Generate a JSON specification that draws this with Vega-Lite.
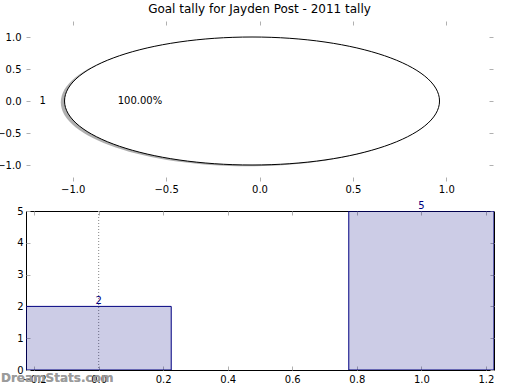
{
  "$schema": "https://vega.github.io/schema/vega-lite/v6.json",
  "padding": {"left": -4, "top": 2, "right": 0, "bottom": 0},
  "background": "white",
  "config": {
    "font": "DejaVu Sans",
    "title": {"font": "DejaVu Sans", "fontSize": 12, "fontWeight": "normal", "color": "black"},
    "axis": {"labelFont": "DejaVu Sans", "labelFontSize": 10, "labelColor": "black", "tickColor": "#b0b0b0", "tickWidth": 1, "tickSize": -4, "labelPadding": 9, "domain": false, "grid": false, "title": null, "labelFlush": false, "labelOverlap": false, "labelBound": false}
  },
  "bounds": "flush",
  "spacing": 30,
  "vconcat": [
    {
      "title": {"text": "Goal tally for Jayden Post - 2011 tally", "offset": 5, "anchor": "middle", "frame": "group"},
      "width": 467,
      "height": 160,
      "view": {"stroke": null},
      "data": {"values": [{"slice": "1", "share": 1, "pct": "100.00%"}]},
      "layer": [
        {
          "mark": {"type": "point", "shape": "M-1,0A1,0.3413,0,1,0,1,0A1,0.3413,0,1,0,-1,0Z", "size": 140625, "filled": true, "fill": "#7a7a7a", "opacity": 0.6, "strokeWidth": 0},
          "encoding": {
            "x": {"datum": -0.06, "type": "quantitative", "scale": {"domain": [-1.25, 1.25], "nice": false, "zero": false, "padding": 0}, "axis": {"orient": "bottom", "values": [-1, -0.5, 0, 0.5, 1], "format": ".1f", "labelPadding": 7}},
            "y": {"datum": -0.02, "type": "quantitative", "scale": {"domain": [-1.25, 1.25], "nice": false, "zero": false, "padding": 0}, "axis": {"orient": "left", "values": [-1, -0.5, 0, 0.5, 1], "format": ".1f"}}
          }
        },
        {
          "mark": {"type": "point", "shape": "M-1,0A1,0.3413,0,1,0,1,0A1,0.3413,0,1,0,-1,0Z", "size": 140625, "filled": true, "fill": "white", "stroke": "black", "strokeWidth": 1, "opacity": 1},
          "encoding": {
            "x": {"datum": -0.04, "type": "quantitative", "axis": {"orient": "top", "values": [-1, -0.5, 0, 0.5, 1], "labels": false}},
            "y": {"datum": 0, "type": "quantitative", "axis": {"orient": "right", "values": [-1, -0.5, 0, 0.5, 1], "labels": false}}
          }
        },
        {
          "mark": {"type": "text", "fontSize": 10, "align": "center", "baseline": "middle", "color": "black"},
          "encoding": {
            "x": {"datum": -1.16, "type": "quantitative", "axis": null},
            "y": {"datum": 0, "type": "quantitative", "axis": null},
            "text": {"field": "slice"}
          }
        },
        {
          "mark": {"type": "text", "fontSize": 10, "align": "center", "baseline": "middle", "color": "black"},
          "encoding": {
            "x": {"datum": -0.64, "type": "quantitative", "axis": null},
            "y": {"datum": 0, "type": "quantitative", "axis": null},
            "text": {"field": "pct"}
          }
        }
      ],
      "resolve": {"axis": {"x": "independent", "y": "independent"}}
    },
    {
      "width": 468,
      "height": 159,
      "view": {"stroke": "black", "strokeWidth": 1},
      "data": {"values": [{"x": 0, "value": 2}, {"x": 1, "value": 5}]},
      "layer": [
        {
          "mark": {"type": "rule", "color": "#999999", "strokeDash": [1, 2], "strokeWidth": 1},
          "encoding": {
            "x": {"datum": 0, "type": "quantitative", "axis": null}
          }
        },
        {
          "mark": {"type": "bar", "width": 145.2, "fill": "#000080", "fillOpacity": 0.2, "stroke": "#000080", "strokeWidth": 1, "clip": true},
          "encoding": {
            "x": {"field": "x", "type": "quantitative", "scale": {"domain": [-0.225, 1.225], "nice": false, "zero": false, "padding": 0}, "axis": {"orient": "bottom", "values": [-0.2, 0, 0.2, 0.4, 0.6, 0.8, 1.0, 1.2], "format": ".1f", "labelPadding": 8}},
            "y": {"field": "value", "type": "quantitative", "scale": {"domain": [0, 5], "nice": false, "padding": 0}, "axis": {"orient": "left", "values": [0, 1, 2, 3, 4, 5], "format": "d", "labelPadding": 7}}
          }
        },
        {
          "mark": {"type": "text", "fontSize": 10, "align": "center", "baseline": "bottom", "color": "#000080", "dy": 0},
          "encoding": {
            "x": {"field": "x", "type": "quantitative", "axis": {"orient": "top", "values": [-0.2, 0, 0.2, 0.4, 0.6, 0.8, 1.0, 1.2], "labels": false}},
            "y": {"field": "value", "type": "quantitative", "axis": {"orient": "right", "values": [0, 1, 2, 3, 4, 5], "labels": false}},
            "text": {"field": "value", "type": "quantitative"}
          }
        },
        {
          "mark": {"type": "text", "fontSize": 12, "fontWeight": "bold", "align": "left", "baseline": "middle", "color": "#999999", "opacity": 0.85, "text": "DreamStats.com"},
          "encoding": {
            "x": {"datum": -0.3025, "type": "quantitative", "axis": null},
            "y": {"datum": -0.25, "type": "quantitative", "axis": null}
          }
        }
      ],
      "resolve": {"axis": {"x": "independent", "y": "independent"}}
    }
  ]
}
